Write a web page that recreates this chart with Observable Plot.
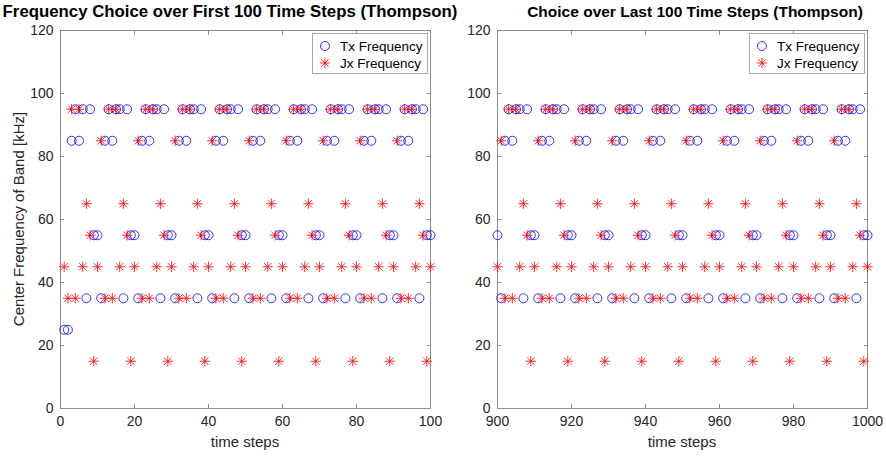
<!DOCTYPE html>
<html><head><meta charset="utf-8">
<script src="https://cdn.jsdelivr.net/npm/d3@7"></script>
<script src="https://cdn.jsdelivr.net/npm/@observablehq/plot@0.6"></script>
<style>
body{margin:0;background:#fff;font-family:"Liberation Sans",Arial,sans-serif;}
#wrap{position:relative;width:886px;height:459px;overflow:hidden;background:#fff;}
.t{position:absolute;white-space:nowrap;color:#000;}
.title{font-weight:bold;font-size:15.5px;transform:translate(-50%,-50%);}
.xl{font-size:15px;transform:translate(-50%,-50%);color:#262626;}
.yl{font-size:15px;transform:translate(-50%,-50%) rotate(-90deg);color:#262626;}
.leg{position:absolute;width:114px;height:39px;border:1px solid #a8a8a8;background:#fff;}
.leg span{position:absolute;left:27px;font-size:13.5px;color:#000;transform:translateY(-50%);}
.leg svg{position:absolute;left:0;top:0;}
.panel{position:absolute;top:0;}
</style></head><body><div id="wrap"></div>
<script>
// ---------- data ----------
const yTicks = [0, 20, 40, 60, 80, 100, 120];
const xTicksFirst = [0, 20, 40, 60, 80, 100];
const xTicksLast = [900, 920, 940, 960, 980, 1000];
const firstStart = 1;   // time step of first value (first panel)
const lastStart = 900;  // time step of first value (last panel)

// Tx frequency chosen, time steps 1..100
const txFirst = [
 25,25,85,95,85,95,35,95,55,55,
 35,85,95,85,95,95,35,95,55,55,
 35,85,95,85,95,95,35,95,55,55,
 35,85,95,85,95,95,35,95,55,55,
 35,85,95,85,95,95,35,95,55,55,
 35,85,95,85,95,95,35,95,55,55,
 35,85,95,85,95,95,35,95,55,55,
 35,85,95,85,95,95,35,95,55,55,
 35,85,95,85,95,95,35,95,55,55,
 35,85,95,85,95,95,35,95,55,55
];
// Jx frequency, time steps 1..100
const jxFirst = [
 45,35,95,35,95,45,65,55,15,45,
 85,35,95,35,95,45,65,55,15,45,
 85,35,95,35,95,45,65,55,15,45,
 85,35,95,35,95,45,65,55,15,45,
 85,35,95,35,95,45,65,55,15,45,
 85,35,95,35,95,45,65,55,15,45,
 85,35,95,35,95,45,65,55,15,45,
 85,35,95,35,95,45,65,55,15,45,
 85,35,95,35,95,45,65,55,15,45,
 85,35,95,35,95,45,65,55,15,45
];
// Tx frequency, time steps 900..1000
const txLast = [
 55,
 35,85,95,85,95,95,35,95,55,55,
 35,85,95,85,95,95,35,95,55,55,
 35,85,95,85,95,95,35,95,55,55,
 35,85,95,85,95,95,35,95,55,55,
 35,85,95,85,95,95,35,95,55,55,
 35,85,95,85,95,95,35,95,55,55,
 35,85,95,85,95,95,35,95,55,55,
 35,85,95,85,95,95,35,95,55,55,
 35,85,95,85,95,95,35,95,55,55,
 35,85,95,85,95,95,35,95,55,55
];
// Jx frequency, time steps 900..1000
const jxLast = [
 45,
 85,35,95,35,95,45,65,55,15,45,
 85,35,95,35,95,45,65,55,15,45,
 85,35,95,35,95,45,65,55,15,45,
 85,35,95,35,95,45,65,55,15,45,
 85,35,95,35,95,45,65,55,15,45,
 85,35,95,35,95,45,65,55,15,45,
 85,35,95,35,95,45,65,55,15,45,
 85,35,95,35,95,45,65,55,15,45,
 85,35,95,35,95,45,65,55,15,45,
 85,35,95,35,95,45,65,55,15,45
];
const titles = ["Frequency Choice over First 100 Time Steps (Thompson)", "Choice over Last 100 Time Steps (Thompson)"];
const yLabel = "Center Frequency of Band [kHz]";
const xLabel = "time steps";
const legendLabels = ["Tx Frequency", "Jx Frequency"];

// ---------- drawing ----------
const BLUE = "#0000ff", RED = "#ff0000", AXIS = "#8c8c8c", TXT = "#262626";
const asterisk8 = {
  draw(ctx, size) {
    const r = Math.sqrt(size / Math.PI), d = r * Math.SQRT1_2;
    ctx.moveTo(-r, 0); ctx.lineTo(r, 0);
    ctx.moveTo(0, -r); ctx.lineTo(0, r);
    ctx.moveTo(-d, -d); ctx.lineTo(d, d);
    ctx.moveTo(-d, d); ctx.lineTo(d, -d);
  }
};
const wrap = document.getElementById("wrap");

function panel(tx, jx, start, xTicks, left, width, marginLeft, marginRight) {
  const data = tx.map((v, i) => ({t: start + i, tx: v, jx: jx[i]}));
  const svg = Plot.plot({
    width, height: 459,
    marginLeft, marginRight, marginTop: 30, marginBottom: 51,
    x: {domain: [xTicks[0], xTicks[xTicks.length - 1]]},
    y: {domain: [0, 120]},
    style: {fontFamily: "'Liberation Sans', Arial, sans-serif", fontSize: "14px", background: "transparent", overflow: "visible"},
    marks: [
      Plot.frame({stroke: AXIS, strokeWidth: 1}),
      Plot.axisX(xTicks, {anchor: "bottom", tickSize: -4, tickPadding: 12, tickFormat: d => String(d), label: null, stroke: AXIS, fill: TXT, fontSize: 14}),
      Plot.axisX(xTicks, {anchor: "top", tickSize: -4, tickFormat: () => "", label: null, stroke: AXIS}),
      Plot.axisY(yTicks, {anchor: "left", tickSize: -4, tickPadding: 11, tickFormat: d => String(d), label: null, stroke: AXIS, fill: TXT, fontSize: 14}),
      Plot.axisY(yTicks, {anchor: "right", tickSize: -4, tickFormat: () => "", label: null, stroke: AXIS}),
      Plot.dot(data, {x: "t", y: "tx", r: 4.5, symbol: "circle", stroke: BLUE, strokeWidth: 0.8, fill: "none"}),
      Plot.dot(data, {x: "t", y: "jx", r: 5.2, symbol: asterisk8, stroke: RED, strokeWidth: 0.8, fill: "none"})
    ]
  });
  svg.classList.add("panel");
  svg.style.left = left + "px";
  wrap.appendChild(svg);
}

panel(txFirst, jxFirst, firstStart, xTicksFirst, 0, 440, 60, 10);
panel(txLast, jxLast, lastStart, xTicksLast, 440, 446, 57, 19);

function addText(cls, txt, x, y, size) {
  const d = document.createElement("div");
  d.className = "t " + cls; d.textContent = txt;
  d.style.left = x + "px"; d.style.top = y + "px";
  if (size) d.style.fontSize = size + "px";
  wrap.appendChild(d);
}
addText("title", titles[0], 230, 12, 16.8);
addText("title", titles[1], 695, 12);
addText("xl", xLabel, 245, 441);
addText("xl", xLabel, 682, 441);
addText("yl", yLabel, 18, 219);

function legend(x, y) {
  const L = document.createElement("div");
  L.className = "leg"; L.style.left = x + "px"; L.style.top = y + "px";
  L.innerHTML = `<svg width="114" height="39">
    <circle cx="12" cy="12" r="4.5" fill="none" stroke="${BLUE}" stroke-width="0.8"/>
    <g stroke="${RED}" stroke-width="0.8" transform="translate(12,29)">
      <line x1="-5.2" y1="0" x2="5.2" y2="0"/><line x1="0" y1="-5.2" x2="0" y2="5.2"/>
      <line x1="-3.7" y1="-3.7" x2="3.7" y2="3.7"/><line x1="-3.7" y1="3.7" x2="3.7" y2="-3.7"/>
    </g></svg>
    <span style="top:12px">${legendLabels[0]}</span><span style="top:29px">${legendLabels[1]}</span>`;
  wrap.appendChild(L);
}
legend(312, 33);
legend(749, 33);
</script></body></html>
